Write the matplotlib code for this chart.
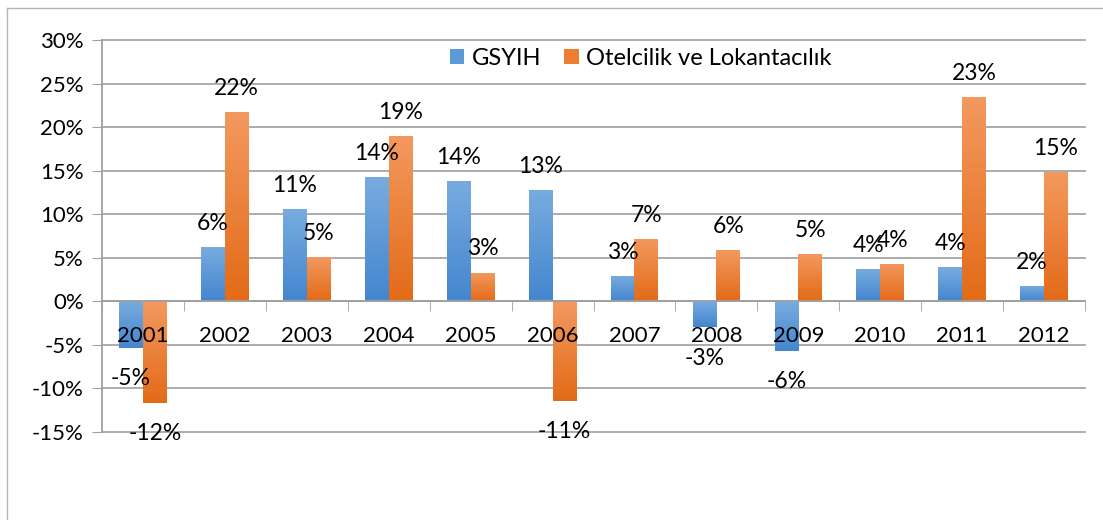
import numpy as np
import matplotlib
matplotlib.use('Agg')
import matplotlib.pyplot as plt
from matplotlib.colors import LinearSegmentedColormap
from matplotlib.patches import Patch
from matplotlib.lines import Line2D

plt.rcParams['font.family'] = ['Lato', 'DejaVu Sans']

# veriler
years = [str(y) for y in range(2001, 2013)]
gsyih = [-5.4, 6.2, 10.6, 14.3, 13.8, 12.8, 2.9, -3.0, -5.7, 3.7, 3.9, 1.8]
otel = [-11.7, 21.7, 5.1, 19.0, 3.3, -11.4, 7.2, 5.9, 5.4, 4.3, 23.4, 14.8]
names = ['GSYIH', 'Otelcilik ve Lokantacılık']

blue_cm = LinearSegmentedColormap.from_list('b', ['#78acdf', '#4486cf'])
orange_cm = LinearSegmentedColormap.from_list('o', ['#f3995f', '#e36b18'])

fig = plt.figure(figsize=(11.03, 5.2), dpi=100)
ax = fig.add_axes([102/1103, 1-432/520, 983/1103, 392/520])

x = np.arange(len(years))
w = 0.29
grad = np.linspace(0, 1, 64).reshape(-1, 1)


def draw_bars(xs, vals, cmap):
    bars = ax.bar(xs, vals, w, color='none', edgecolor='none', zorder=2)
    for b in bars:
        x0, y0 = b.get_x(), b.get_y()
        bw, bh = b.get_width(), b.get_height()
        lo, hi = min(y0, y0 + bh), max(y0, y0 + bh)
        im = ax.imshow(grad, cmap=cmap, aspect='auto', origin='upper',
                       extent=(x0, x0 + bw, lo, hi), zorder=2)
        im.set_clip_path(b)
    for xi, v in zip(xs, vals):
        off = 17 if v >= 0 else -22
        ax.annotate(f'{v:.0f}%', (xi, v), xytext=(0, off), textcoords='offset points',
                    ha='center', va='center', fontsize=16.5, zorder=4)


draw_bars(x - w/2, gsyih, blue_cm)
draw_bars(x + w/2, otel, orange_cm)

ax.spines['bottom'].set_position(('data', 0))
for s in ['top', 'right']:
    ax.spines[s].set_visible(False)
for s in ['left', 'bottom']:
    ax.spines[s].set_color('#a0a0a0')
    ax.spines[s].set_linewidth(1.3)

ax.set_xlim(-0.5, 11.5)
ax.set_ylim(-15, 30)
ax.set_yticks(range(-15, 31, 5))
ax.set_yticklabels([f'{t}%' for t in range(-15, 31, 5)], fontsize=16)
ax.tick_params(axis='y', length=7, color='#a0a0a0', pad=6)

ax.set_xticks(x)
ax.set_xticklabels(years, fontsize=16)
ax.set_xticks(np.arange(-0.5, 12, 1), minor=True)
ax.tick_params(axis='x', which='major', length=0, pad=18)
ax.tick_params(axis='x', which='minor', length=7, color='#a0a0a0', direction='out')

ax.set_axisbelow(True)
ax.xaxis.set_zorder(5)
ax.yaxis.grid(True, color='#a6a6a6', lw=1.3)
for line in ax.get_ygridlines():
    line.set_clip_on(False)

handles = [Patch(facecolor='#5b9bd5'), Patch(facecolor='#ed7d31')]
ax.legend(handles, names, loc='center', bbox_to_anchor=(0.548, 0.954), ncol=2,
          frameon=False, fontsize=17, handlelength=0.6, handleheight=0.6,
          handletextpad=0.3, columnspacing=1.0)

# dis cerceve
fig.add_artist(Line2D([7/1103, 7/1103], [0, 1-8/520], transform=fig.transFigure, color='#b5b5b5', lw=1))
fig.add_artist(Line2D([7/1103, 1], [1-8/520, 1-8/520], transform=fig.transFigure, color='#b5b5b5', lw=1))

fig.savefig('out.png', dpi=100)
